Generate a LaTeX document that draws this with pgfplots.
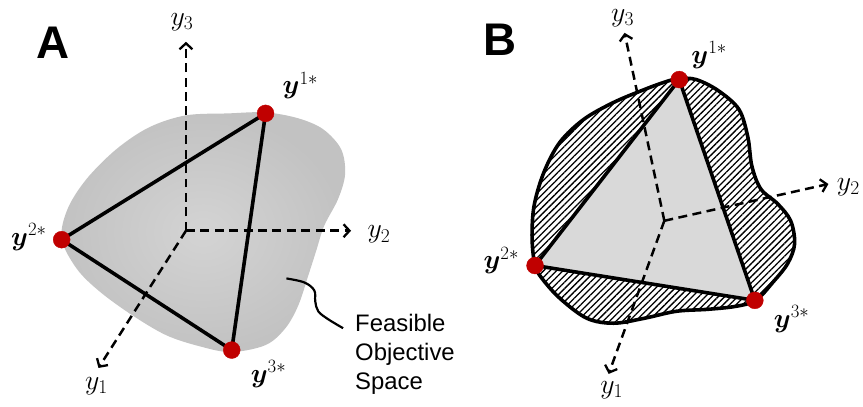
\RequirePackage{fix-cm}
\documentclass[border=0pt]{standalone}
\usepackage{amsmath}
\usepackage{bm}
\usepackage{fontspec}
\setmainfont{Liberation Sans}
\usepackage{pgfplots}
\pgfplotsset{compat=1.18}
\usetikzlibrary{arrows.meta,patterns.meta}
\definecolor{ptred}{HTML}{C00000}
\definecolor{trigray}{HTML}{D9D9D9}
\newcommand{\lab}[1]{\fontsize{28}{30}\selectfont $#1$}
\newcommand{\blab}[1]{\fontsize{27}{30}\selectfont $\bm{y}^{#1}$}
\tikzset{daxis/.style={dash pattern=on 9pt off 5.5pt, line width=2.5pt, -{Straight Barb[length=6pt,width=13pt,line width=2.3pt]}}}
\begin{document}
\begin{tikzpicture}
\begin{axis}[
  x=1pt, y=1pt, y dir=reverse,
  xmin=0, xmax=863, ymin=0, ymax=409,
  hide axis, clip=false, scale only axis,
]
\path (axis cs:0,0) rectangle (axis cs:863,409);
%%%%%%%% Panel A
\addplot[draw=none, inner color=black!17, outer color=black!24, smooth cycle, tension=0.55] coordinates {
(267,113) (230,114) (187,116) (150,128) (117,150) (87,180) (68,210) (62,240)
(77,270) (100,293) (133,317) (167,337) (200,348) (232,354) (267,347)
(287,330) (300,307) (310,277) (318,252) (326,227) (340,200) (347,175)
(343,150) (325,130) (300,119)};
% axes A
\addplot[daxis] coordinates {(187,232) (187,42)};
\addplot[daxis] coordinates {(187,232) (353,232)};
\addplot[daxis] coordinates {(187,232) (99,370)};
% triangle A
\addplot[black, line width=3.6pt, line join=round] coordinates {(267,114) (62,241) (233,352) (267,114)};
% leader line
\addplot[black, line width=2.2pt, smooth, tension=0.6] coordinates {(288,280) (306,284) (316,292) (317,303) (320,313) (330,321) (345,330)};
\addplot[only marks, mark=*, mark size=8.5pt, color=ptred, mark options={fill=ptred, draw=none}] coordinates {(267,114) (62,241) (233,352)};
\node at (axis cs:53,43) {\fontsize{46}{50}\selectfont\bfseries A};
\node at (axis cs:183,22) {\lab{y_3}};
\node at (axis cs:381,236) {\lab{y_2}};
\node at (axis cs:97,388) {\lab{y_1}};
\node at (axis cs:302,86) {\blab{1*}};
\node at (axis cs:29,238) {\blab{2*}};
\node at (axis cs:270,376) {\blab{3*}};
\node[anchor=west, align=left, inner sep=0pt, font=\fontsize{24}{29}\selectfont] at (axis cs:357,356) {Feasible\\Objective\\Space};
%%%%%%%% Panel B
\addplot[draw=none, pattern={Lines[angle=45,distance=4.6pt,line width=1.3pt]}, smooth cycle, tension=0.55] coordinates {
(683,79) (700,80) (722,91) (743,110) (752,138) (756,167) (765,190) (782,205)
(795,222) (799,245) (792,265) (777,284) (760,302) (740,308) (712,311) (680,313)
(648,320) (617,325) (590,320) (563,300) (545,280) (538,267) (535,240) (537,207)
(547,173) (563,143) (587,120) (617,103) (648,90) (670,82)};
\addplot[draw=none, fill=trigray] coordinates {(683,80) (538,267) (759,302) (683,80)};
% axes B
\addplot[daxis] coordinates {(668,222) (628,33)};
\addplot[daxis] coordinates {(668,222) (833,185)};
\addplot[daxis] coordinates {(668,222) (612,376)};
\addplot[black, line width=3.6pt, smooth cycle, tension=0.55] coordinates {
(683,79) (700,80) (722,91) (743,110) (752,138) (756,167) (765,190) (782,205)
(795,222) (799,245) (792,265) (777,284) (760,302) (740,308) (712,311) (680,313)
(648,320) (617,325) (590,320) (563,300) (545,280) (538,267) (535,240) (537,207)
(547,173) (563,143) (587,120) (617,103) (648,90) (670,82)};
\addplot[black, line width=3.6pt, line join=round] coordinates {(683,80) (538,267) (759,302) (683,80)};
\addplot[only marks, mark=*, mark size=8.5pt, color=ptred, mark options={fill=ptred, draw=none}] coordinates {(683,80) (538,267) (759,302)};
\node at (axis cs:503,40) {\fontsize{46}{50}\selectfont\bfseries B};
\node at (axis cs:626,18) {\lab{y_3}};
\node at (axis cs:853,188) {\lab{y_2}};
\node at (axis cs:615,392) {\lab{y_1}};
\node at (axis cs:713,55) {\blab{1*}};
\node at (axis cs:504,262) {\blab{2*}};
\node at (axis cs:796,321) {\blab{3*}};
\end{axis}
\end{tikzpicture}
\end{document}
